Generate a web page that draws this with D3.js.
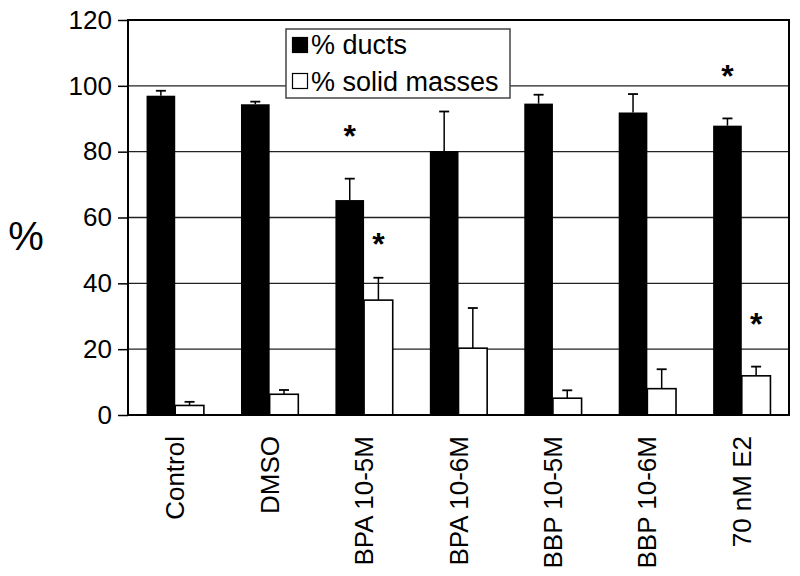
<!DOCTYPE html>
<html>
<head>
<meta charset="utf-8">
<script src="https://cdn.jsdelivr.net/npm/d3@7"></script>
<style>
  body { margin: 0; background: #fff; }
  text { font-family: "Liberation Sans", Arial, Helvetica, sans-serif; fill: #000; }
</style>
</head>
<body>
<svg id="chart"></svg>
<script>
const width = 800, height = 576;
const svg = d3.select("#chart").attr("width", width).attr("height", height);

// data
const categories = ["Control", "DMSO", "BPA 10-5M", "BPA 10-6M", "BBP 10-5M", "BBP 10-6M", "70 nM E2"];
const seriesNames = ["% ducts", "% solid masses"];
const ducts      = [97.0, 94.4, 65.3, 80.2, 94.6, 91.9, 87.9];
const ductsErr   = [1.5, 0.8, 6.5, 12.0, 2.7, 5.6, 2.2];
const solids     = [2.9, 6.3, 34.9, 20.3, 5.1, 8.0, 11.9];
const solidsErr  = [1.1, 1.3, 6.8, 12.2, 2.4, 5.9, 2.8];
const yTicks = [0, 20, 40, 60, 80, 100, 120];
// significance stars: [category, series index, value where the star sits]
const stars = [["BPA 10-5M", 0, 86.6], ["BPA 10-5M", 1, 53.9], ["70 nM E2", 0, 104.9], ["70 nM E2", 1, 29.5]];

const mLeft = 128, mRight = 789, mTop = 20, mBottom = 415;

const y = d3.scaleLinear().domain([0, 120]).range([mBottom, mTop]);
const x = d3.scaleBand().domain(categories).range([mLeft, mRight]).padding(0);
const groupW = x.bandwidth() * 0.607;
const xs = d3.scaleBand().domain([0, 1]).range([0, groupW]).padding(0);
const gx = c => x(c) + (x.bandwidth() - groupW) / 2;

// gridlines
svg.append("g").selectAll("line")
  .data(yTicks.filter(t => t > 0 && t < 120))
  .join("line")
  .attr("x1", mLeft).attr("x2", mRight)
  .attr("y1", d => y(d)).attr("y2", d => y(d))
  .attr("stroke", "#222").attr("stroke-width", 1.4);

// y axis with ticks and labels
const yAxis = svg.append("g")
  .attr("transform", `translate(${mLeft},0)`)
  .call(d3.axisLeft(y).tickValues(yTicks).tickSize(10).tickPadding(6));
yAxis.select(".domain").remove();
yAxis.selectAll("line").attr("stroke", "#000").attr("stroke-width", 1.5);
yAxis.selectAll("text")
  .style("font-family", "'Liberation Sans', Arial, sans-serif")
  .style("font-size", "26px")
  .attr("fill", "#000");

// bars
const rows = categories.map((c, i) => [
  { c, s: 0, v: ducts[i], e: ductsErr[i] },
  { c, s: 1, v: solids[i], e: solidsErr[i] }
]).flat();

// error bars (drawn first so bar tops cover the stems)
const eb = svg.append("g").selectAll("g").data(rows).join("g")
  .attr("transform", d => `translate(${gx(d.c) + xs(d.s) + xs.bandwidth() / 2},0)`);
eb.append("line")
  .attr("y1", d => y(d.v)).attr("y2", d => y(d.v + d.e))
  .attr("stroke", "#000").attr("stroke-width", 1.5);
eb.append("line")
  .attr("x1", -5).attr("x2", 5)
  .attr("y1", d => y(d.v + d.e)).attr("y2", d => y(d.v + d.e))
  .attr("stroke", "#000").attr("stroke-width", 1.8);

svg.append("g").selectAll("rect").data(rows).join("rect")
  .attr("x", d => gx(d.c) + xs(d.s))
  .attr("y", d => y(d.v))
  .attr("width", xs.bandwidth())
  .attr("height", d => y(0) - y(d.v))
  .attr("fill", d => d.s === 0 ? "#000" : "#fff")
  .attr("stroke", "#000")
  .attr("stroke-width", d => d.s === 0 ? 0 : 1.6);

// frame
svg.append("rect")
  .attr("x", mLeft).attr("y", mTop)
  .attr("width", mRight - mLeft).attr("height", mBottom - mTop)
  .attr("fill", "none").attr("stroke", "#000").attr("stroke-width", 2);

// stars
svg.append("g").selectAll("text").data(stars).join("text")
  .attr("x", d => gx(d[0]) + xs(d[1]) + xs.bandwidth() / 2)
  .attr("y", d => y(d[2]) + 17)
  .attr("text-anchor", "middle")
  .style("font-size", "32px")
  .style("font-weight", "bold")
  .text("*");

// x labels, rotated
svg.append("g").selectAll("text").data(categories).join("text")
  .attr("transform", c => `translate(${x(c) + x.bandwidth() / 2 + 9},436) rotate(-90)`)
  .attr("text-anchor", "end")
  .style("font-size", "26px")
  .text(c => c);

// y title
svg.append("text")
  .attr("x", 26).attr("y", 250)
  .attr("text-anchor", "middle")
  .style("font-size", "40px")
  .text("%");

// legend
const lg = svg.append("g");
lg.append("rect")
  .attr("x", 286).attr("y", 29).attr("width", 224).attr("height", 69)
  .attr("fill", "#fff").attr("stroke", "#444").attr("stroke-width", 1.5);
seriesNames.forEach((name, i) => {
  lg.append("rect")
    .attr("x", 292.5).attr("y", 37.5 + i * 36).attr("width", 15).attr("height", 15)
    .attr("fill", i === 0 ? "#000" : "#fff")
    .attr("stroke", "#000").attr("stroke-width", 1.2);
  lg.append("text")
    .attr("x", 311).attr("y", 54 + i * 36.5)
    .style("font-size", "27px")
    .text(name);
});
</script>
</body>
</html>
